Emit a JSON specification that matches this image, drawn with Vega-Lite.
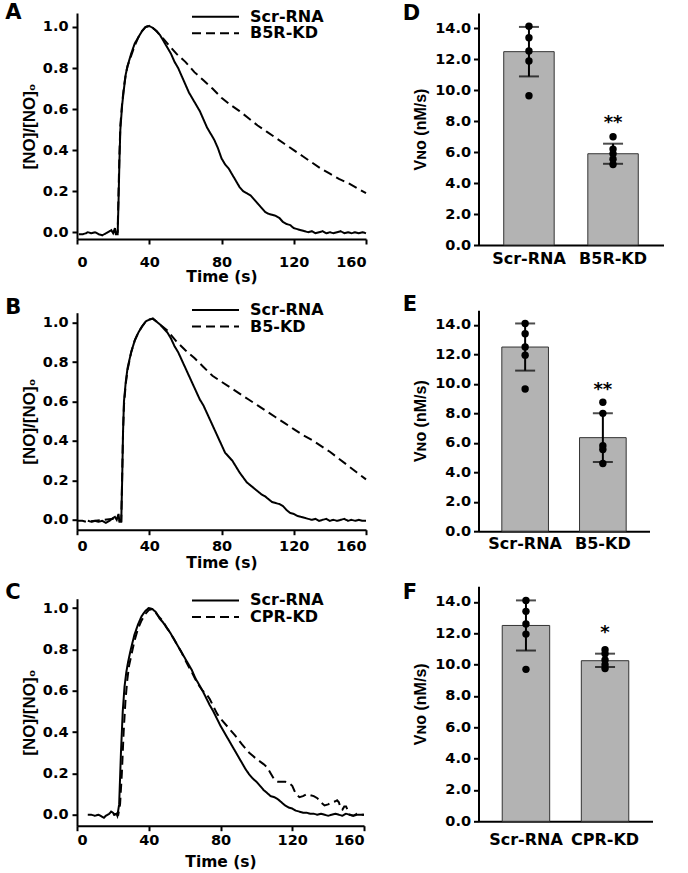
{
  "$schema": "https://vega.github.io/schema/vega-lite/v6.json",
  "padding": {"left": 5, "top": 1, "right": 5, "bottom": 0},
  "background": "white",
  "datasets": {
    "lines": [
      {"p":"A","s":"Scr-RNA","t":1,"v":-0.01},{"p":"A","s":"Scr-RNA","t":3,"v":-0.01},{"p":"A","s":"Scr-RNA","t":5,"v":-0.005},{"p":"A","s":"Scr-RNA","t":6,"v":0.0},{"p":"A","s":"Scr-RNA","t":8,"v":-0.005},{"p":"A","s":"Scr-RNA","t":10,"v":0.0},{"p":"A","s":"Scr-RNA","t":12,"v":-0.01},{"p":"A","s":"Scr-RNA","t":14,"v":-0.015},{"p":"A","s":"Scr-RNA","t":16,"v":-0.005},{"p":"A","s":"Scr-RNA","t":18,"v":0.005},{"p":"A","s":"Scr-RNA","t":19,"v":0.01},{"p":"A","s":"Scr-RNA","t":20,"v":-0.005},{"p":"A","s":"Scr-RNA","t":21,"v":0.02},{"p":"A","s":"Scr-RNA","t":21.5,"v":-0.01},{"p":"A","s":"Scr-RNA","t":22.5,"v":-0.01},{"p":"A","s":"Scr-RNA","t":23,"v":0.15},{"p":"A","s":"Scr-RNA","t":23.5,"v":0.35},{"p":"A","s":"Scr-RNA","t":24,"v":0.5},{"p":"A","s":"Scr-RNA","t":25,"v":0.62},{"p":"A","s":"Scr-RNA","t":26,"v":0.7},{"p":"A","s":"Scr-RNA","t":27,"v":0.77},{"p":"A","s":"Scr-RNA","t":28,"v":0.81},{"p":"A","s":"Scr-RNA","t":30,"v":0.87},{"p":"A","s":"Scr-RNA","t":32,"v":0.92},{"p":"A","s":"Scr-RNA","t":34,"v":0.95},{"p":"A","s":"Scr-RNA","t":36,"v":0.98},{"p":"A","s":"Scr-RNA","t":38,"v":1.0},{"p":"A","s":"Scr-RNA","t":40,"v":1.005},{"p":"A","s":"Scr-RNA","t":42,"v":0.995},{"p":"A","s":"Scr-RNA","t":44,"v":0.98},{"p":"A","s":"Scr-RNA","t":46,"v":0.96},{"p":"A","s":"Scr-RNA","t":48,"v":0.93},{"p":"A","s":"Scr-RNA","t":50,"v":0.9},{"p":"A","s":"Scr-RNA","t":52,"v":0.87},{"p":"A","s":"Scr-RNA","t":54,"v":0.83},{"p":"A","s":"Scr-RNA","t":56,"v":0.8},{"p":"A","s":"Scr-RNA","t":58,"v":0.76},{"p":"A","s":"Scr-RNA","t":60,"v":0.72},{"p":"A","s":"Scr-RNA","t":62,"v":0.68},{"p":"A","s":"Scr-RNA","t":64,"v":0.65},{"p":"A","s":"Scr-RNA","t":66,"v":0.62},{"p":"A","s":"Scr-RNA","t":68,"v":0.59},{"p":"A","s":"Scr-RNA","t":70,"v":0.55},{"p":"A","s":"Scr-RNA","t":72,"v":0.51},{"p":"A","s":"Scr-RNA","t":74,"v":0.48},{"p":"A","s":"Scr-RNA","t":76,"v":0.45},{"p":"A","s":"Scr-RNA","t":78,"v":0.41},{"p":"A","s":"Scr-RNA","t":80,"v":0.36},{"p":"A","s":"Scr-RNA","t":82,"v":0.33},{"p":"A","s":"Scr-RNA","t":84,"v":0.31},{"p":"A","s":"Scr-RNA","t":86,"v":0.28},{"p":"A","s":"Scr-RNA","t":88,"v":0.25},{"p":"A","s":"Scr-RNA","t":90,"v":0.22},{"p":"A","s":"Scr-RNA","t":92,"v":0.2},{"p":"A","s":"Scr-RNA","t":94,"v":0.19},{"p":"A","s":"Scr-RNA","t":96,"v":0.18},{"p":"A","s":"Scr-RNA","t":98,"v":0.16},{"p":"A","s":"Scr-RNA","t":100,"v":0.14},{"p":"A","s":"Scr-RNA","t":102,"v":0.12},{"p":"A","s":"Scr-RNA","t":104,"v":0.1},{"p":"A","s":"Scr-RNA","t":106,"v":0.09},{"p":"A","s":"Scr-RNA","t":108,"v":0.085},{"p":"A","s":"Scr-RNA","t":110,"v":0.08},{"p":"A","s":"Scr-RNA","t":112,"v":0.07},{"p":"A","s":"Scr-RNA","t":114,"v":0.05},{"p":"A","s":"Scr-RNA","t":116,"v":0.04},{"p":"A","s":"Scr-RNA","t":118,"v":0.035},{"p":"A","s":"Scr-RNA","t":120,"v":0.02},{"p":"A","s":"Scr-RNA","t":122,"v":0.015},{"p":"A","s":"Scr-RNA","t":124,"v":0.01},{"p":"A","s":"Scr-RNA","t":126,"v":0.005},{"p":"A","s":"Scr-RNA","t":128,"v":0.0},{"p":"A","s":"Scr-RNA","t":130,"v":0.005},{"p":"A","s":"Scr-RNA","t":132,"v":-0.005},{"p":"A","s":"Scr-RNA","t":134,"v":0.0},{"p":"A","s":"Scr-RNA","t":136,"v":0.005},{"p":"A","s":"Scr-RNA","t":138,"v":-0.005},{"p":"A","s":"Scr-RNA","t":140,"v":0.0},{"p":"A","s":"Scr-RNA","t":142,"v":-0.005},{"p":"A","s":"Scr-RNA","t":144,"v":0.0},{"p":"A","s":"Scr-RNA","t":146,"v":0.005},{"p":"A","s":"Scr-RNA","t":148,"v":-0.005},{"p":"A","s":"Scr-RNA","t":150,"v":0.0},{"p":"A","s":"Scr-RNA","t":152,"v":-0.005},{"p":"A","s":"Scr-RNA","t":154,"v":0.0},{"p":"A","s":"Scr-RNA","t":156,"v":-0.005},{"p":"A","s":"Scr-RNA","t":158,"v":0.0},{"p":"A","s":"Scr-RNA","t":160,"v":-0.005},
      {"p":"A","s":"B5R-KD","t":20,"v":0.0},{"p":"A","s":"B5R-KD","t":21,"v":0.005},{"p":"A","s":"B5R-KD","t":22,"v":-0.005},{"p":"A","s":"B5R-KD","t":22.5,"v":0.0},{"p":"A","s":"B5R-KD","t":23,"v":0.2},{"p":"A","s":"B5R-KD","t":23.5,"v":0.38},{"p":"A","s":"B5R-KD","t":24,"v":0.52},{"p":"A","s":"B5R-KD","t":25,"v":0.63},{"p":"A","s":"B5R-KD","t":26,"v":0.71},{"p":"A","s":"B5R-KD","t":27,"v":0.77},{"p":"A","s":"B5R-KD","t":28,"v":0.81},{"p":"A","s":"B5R-KD","t":30,"v":0.86},{"p":"A","s":"B5R-KD","t":32,"v":0.91},{"p":"A","s":"B5R-KD","t":34,"v":0.95},{"p":"A","s":"B5R-KD","t":36,"v":0.98},{"p":"A","s":"B5R-KD","t":38,"v":1.0},{"p":"A","s":"B5R-KD","t":40,"v":1.005},{"p":"A","s":"B5R-KD","t":42,"v":0.995},{"p":"A","s":"B5R-KD","t":44,"v":0.98},{"p":"A","s":"B5R-KD","t":46,"v":0.96},{"p":"A","s":"B5R-KD","t":48,"v":0.94},{"p":"A","s":"B5R-KD","t":50,"v":0.92},{"p":"A","s":"B5R-KD","t":55,"v":0.87},{"p":"A","s":"B5R-KD","t":60,"v":0.83},{"p":"A","s":"B5R-KD","t":65,"v":0.78},{"p":"A","s":"B5R-KD","t":70,"v":0.74},{"p":"A","s":"B5R-KD","t":75,"v":0.7},{"p":"A","s":"B5R-KD","t":80,"v":0.655},{"p":"A","s":"B5R-KD","t":85,"v":0.62},{"p":"A","s":"B5R-KD","t":90,"v":0.59},{"p":"A","s":"B5R-KD","t":95,"v":0.555},{"p":"A","s":"B5R-KD","t":100,"v":0.52},{"p":"A","s":"B5R-KD","t":105,"v":0.49},{"p":"A","s":"B5R-KD","t":110,"v":0.46},{"p":"A","s":"B5R-KD","t":115,"v":0.43},{"p":"A","s":"B5R-KD","t":120,"v":0.4},{"p":"A","s":"B5R-KD","t":125,"v":0.37},{"p":"A","s":"B5R-KD","t":130,"v":0.34},{"p":"A","s":"B5R-KD","t":135,"v":0.31},{"p":"A","s":"B5R-KD","t":140,"v":0.285},{"p":"A","s":"B5R-KD","t":145,"v":0.26},{"p":"A","s":"B5R-KD","t":150,"v":0.24},{"p":"A","s":"B5R-KD","t":155,"v":0.215},{"p":"A","s":"B5R-KD","t":160,"v":0.19},
      {"p":"B","s":"Scr-RNA","t":6,"v":-0.005},{"p":"B","s":"Scr-RNA","t":8,"v":-0.01},{"p":"B","s":"Scr-RNA","t":10,"v":-0.005},{"p":"B","s":"Scr-RNA","t":12,"v":-0.01},{"p":"B","s":"Scr-RNA","t":14,"v":-0.005},{"p":"B","s":"Scr-RNA","t":16,"v":-0.015},{"p":"B","s":"Scr-RNA","t":18,"v":-0.005},{"p":"B","s":"Scr-RNA","t":20,"v":0.01},{"p":"B","s":"Scr-RNA","t":21,"v":0.015},{"p":"B","s":"Scr-RNA","t":22,"v":0.0},{"p":"B","s":"Scr-RNA","t":23,"v":0.03},{"p":"B","s":"Scr-RNA","t":23.5,"v":-0.01},{"p":"B","s":"Scr-RNA","t":24.5,"v":-0.01},{"p":"B","s":"Scr-RNA","t":25,"v":0.2},{"p":"B","s":"Scr-RNA","t":25.5,"v":0.45},{"p":"B","s":"Scr-RNA","t":26,"v":0.6},{"p":"B","s":"Scr-RNA","t":27,"v":0.7},{"p":"B","s":"Scr-RNA","t":28,"v":0.77},{"p":"B","s":"Scr-RNA","t":30,"v":0.85},{"p":"B","s":"Scr-RNA","t":32,"v":0.91},{"p":"B","s":"Scr-RNA","t":34,"v":0.95},{"p":"B","s":"Scr-RNA","t":36,"v":0.98},{"p":"B","s":"Scr-RNA","t":38,"v":1.005},{"p":"B","s":"Scr-RNA","t":40,"v":1.015},{"p":"B","s":"Scr-RNA","t":42,"v":1.02},{"p":"B","s":"Scr-RNA","t":44,"v":1.005},{"p":"B","s":"Scr-RNA","t":46,"v":0.99},{"p":"B","s":"Scr-RNA","t":48,"v":0.97},{"p":"B","s":"Scr-RNA","t":50,"v":0.95},{"p":"B","s":"Scr-RNA","t":52,"v":0.92},{"p":"B","s":"Scr-RNA","t":54,"v":0.88},{"p":"B","s":"Scr-RNA","t":56,"v":0.85},{"p":"B","s":"Scr-RNA","t":58,"v":0.81},{"p":"B","s":"Scr-RNA","t":60,"v":0.77},{"p":"B","s":"Scr-RNA","t":62,"v":0.73},{"p":"B","s":"Scr-RNA","t":64,"v":0.69},{"p":"B","s":"Scr-RNA","t":66,"v":0.65},{"p":"B","s":"Scr-RNA","t":68,"v":0.61},{"p":"B","s":"Scr-RNA","t":70,"v":0.58},{"p":"B","s":"Scr-RNA","t":72,"v":0.54},{"p":"B","s":"Scr-RNA","t":74,"v":0.5},{"p":"B","s":"Scr-RNA","t":76,"v":0.46},{"p":"B","s":"Scr-RNA","t":78,"v":0.42},{"p":"B","s":"Scr-RNA","t":80,"v":0.38},{"p":"B","s":"Scr-RNA","t":82,"v":0.34},{"p":"B","s":"Scr-RNA","t":84,"v":0.32},{"p":"B","s":"Scr-RNA","t":86,"v":0.3},{"p":"B","s":"Scr-RNA","t":88,"v":0.27},{"p":"B","s":"Scr-RNA","t":90,"v":0.24},{"p":"B","s":"Scr-RNA","t":92,"v":0.215},{"p":"B","s":"Scr-RNA","t":94,"v":0.19},{"p":"B","s":"Scr-RNA","t":96,"v":0.175},{"p":"B","s":"Scr-RNA","t":98,"v":0.16},{"p":"B","s":"Scr-RNA","t":100,"v":0.145},{"p":"B","s":"Scr-RNA","t":102,"v":0.13},{"p":"B","s":"Scr-RNA","t":104,"v":0.12},{"p":"B","s":"Scr-RNA","t":106,"v":0.105},{"p":"B","s":"Scr-RNA","t":108,"v":0.09},{"p":"B","s":"Scr-RNA","t":110,"v":0.085},{"p":"B","s":"Scr-RNA","t":112,"v":0.08},{"p":"B","s":"Scr-RNA","t":114,"v":0.07},{"p":"B","s":"Scr-RNA","t":116,"v":0.05},{"p":"B","s":"Scr-RNA","t":118,"v":0.035},{"p":"B","s":"Scr-RNA","t":120,"v":0.03},{"p":"B","s":"Scr-RNA","t":122,"v":0.02},{"p":"B","s":"Scr-RNA","t":124,"v":0.015},{"p":"B","s":"Scr-RNA","t":126,"v":0.01},{"p":"B","s":"Scr-RNA","t":128,"v":0.005},{"p":"B","s":"Scr-RNA","t":130,"v":0.0},{"p":"B","s":"Scr-RNA","t":132,"v":0.005},{"p":"B","s":"Scr-RNA","t":134,"v":-0.005},{"p":"B","s":"Scr-RNA","t":136,"v":0.0},{"p":"B","s":"Scr-RNA","t":138,"v":0.005},{"p":"B","s":"Scr-RNA","t":140,"v":-0.005},{"p":"B","s":"Scr-RNA","t":142,"v":0.0},{"p":"B","s":"Scr-RNA","t":144,"v":-0.005},{"p":"B","s":"Scr-RNA","t":146,"v":0.0},{"p":"B","s":"Scr-RNA","t":148,"v":0.005},{"p":"B","s":"Scr-RNA","t":150,"v":-0.005},{"p":"B","s":"Scr-RNA","t":152,"v":0.0},{"p":"B","s":"Scr-RNA","t":154,"v":-0.005},{"p":"B","s":"Scr-RNA","t":156,"v":0.0},{"p":"B","s":"Scr-RNA","t":158,"v":-0.005},{"p":"B","s":"Scr-RNA","t":160,"v":-0.005},
      {"p":"B","s":"B5-KD","t":0,"v":-0.005},{"p":"B","s":"B5-KD","t":3,"v":-0.005},{"p":"B","s":"B5-KD","t":5,"v":-0.01},{"p":"B","s":"B5-KD","t":20,"v":0.005},{"p":"B","s":"B5-KD","t":24.5,"v":-0.005},{"p":"B","s":"B5-KD","t":25,"v":0.22},{"p":"B","s":"B5-KD","t":25.5,"v":0.45},{"p":"B","s":"B5-KD","t":26,"v":0.58},{"p":"B","s":"B5-KD","t":27,"v":0.69},{"p":"B","s":"B5-KD","t":28,"v":0.76},{"p":"B","s":"B5-KD","t":30,"v":0.85},{"p":"B","s":"B5-KD","t":32,"v":0.91},{"p":"B","s":"B5-KD","t":34,"v":0.95},{"p":"B","s":"B5-KD","t":36,"v":0.98},{"p":"B","s":"B5-KD","t":38,"v":1.005},{"p":"B","s":"B5-KD","t":40,"v":1.015},{"p":"B","s":"B5-KD","t":42,"v":1.02},{"p":"B","s":"B5-KD","t":44,"v":1.005},{"p":"B","s":"B5-KD","t":46,"v":0.99},{"p":"B","s":"B5-KD","t":48,"v":0.975},{"p":"B","s":"B5-KD","t":50,"v":0.96},{"p":"B","s":"B5-KD","t":55,"v":0.905},{"p":"B","s":"B5-KD","t":60,"v":0.86},{"p":"B","s":"B5-KD","t":65,"v":0.82},{"p":"B","s":"B5-KD","t":70,"v":0.775},{"p":"B","s":"B5-KD","t":75,"v":0.73},{"p":"B","s":"B5-KD","t":80,"v":0.7},{"p":"B","s":"B5-KD","t":85,"v":0.67},{"p":"B","s":"B5-KD","t":90,"v":0.64},{"p":"B","s":"B5-KD","t":95,"v":0.61},{"p":"B","s":"B5-KD","t":100,"v":0.58},{"p":"B","s":"B5-KD","t":105,"v":0.55},{"p":"B","s":"B5-KD","t":110,"v":0.52},{"p":"B","s":"B5-KD","t":115,"v":0.49},{"p":"B","s":"B5-KD","t":120,"v":0.46},{"p":"B","s":"B5-KD","t":125,"v":0.43},{"p":"B","s":"B5-KD","t":130,"v":0.405},{"p":"B","s":"B5-KD","t":135,"v":0.375},{"p":"B","s":"B5-KD","t":140,"v":0.345},{"p":"B","s":"B5-KD","t":145,"v":0.31},{"p":"B","s":"B5-KD","t":150,"v":0.275},{"p":"B","s":"B5-KD","t":155,"v":0.24},{"p":"B","s":"B5-KD","t":160,"v":0.205},
      {"p":"C","s":"Scr-RNA","t":6,"v":0.0},{"p":"C","s":"Scr-RNA","t":8,"v":0.0},{"p":"C","s":"Scr-RNA","t":10,"v":-0.005},{"p":"C","s":"Scr-RNA","t":12,"v":0.0},{"p":"C","s":"Scr-RNA","t":14,"v":-0.01},{"p":"C","s":"Scr-RNA","t":15,"v":-0.015},{"p":"C","s":"Scr-RNA","t":16,"v":-0.005},{"p":"C","s":"Scr-RNA","t":18,"v":0.005},{"p":"C","s":"Scr-RNA","t":19,"v":0.015},{"p":"C","s":"Scr-RNA","t":20,"v":0.01},{"p":"C","s":"Scr-RNA","t":21,"v":0.0},{"p":"C","s":"Scr-RNA","t":22,"v":0.005},{"p":"C","s":"Scr-RNA","t":22.5,"v":-0.005},{"p":"C","s":"Scr-RNA","t":23.5,"v":0.05},{"p":"C","s":"Scr-RNA","t":24.5,"v":0.3},{"p":"C","s":"Scr-RNA","t":25.5,"v":0.5},{"p":"C","s":"Scr-RNA","t":26.5,"v":0.62},{"p":"C","s":"Scr-RNA","t":27.5,"v":0.69},{"p":"C","s":"Scr-RNA","t":28.5,"v":0.74},{"p":"C","s":"Scr-RNA","t":30,"v":0.8},{"p":"C","s":"Scr-RNA","t":32,"v":0.87},{"p":"C","s":"Scr-RNA","t":34,"v":0.92},{"p":"C","s":"Scr-RNA","t":36,"v":0.96},{"p":"C","s":"Scr-RNA","t":38,"v":0.985},{"p":"C","s":"Scr-RNA","t":40,"v":1.0},{"p":"C","s":"Scr-RNA","t":42,"v":0.995},{"p":"C","s":"Scr-RNA","t":44,"v":0.98},{"p":"C","s":"Scr-RNA","t":46,"v":0.95},{"p":"C","s":"Scr-RNA","t":48,"v":0.93},{"p":"C","s":"Scr-RNA","t":50,"v":0.905},{"p":"C","s":"Scr-RNA","t":52,"v":0.88},{"p":"C","s":"Scr-RNA","t":54,"v":0.85},{"p":"C","s":"Scr-RNA","t":56,"v":0.82},{"p":"C","s":"Scr-RNA","t":58,"v":0.79},{"p":"C","s":"Scr-RNA","t":60,"v":0.76},{"p":"C","s":"Scr-RNA","t":62,"v":0.73},{"p":"C","s":"Scr-RNA","t":64,"v":0.7},{"p":"C","s":"Scr-RNA","t":66,"v":0.66},{"p":"C","s":"Scr-RNA","t":68,"v":0.63},{"p":"C","s":"Scr-RNA","t":70,"v":0.6},{"p":"C","s":"Scr-RNA","t":72,"v":0.565},{"p":"C","s":"Scr-RNA","t":74,"v":0.53},{"p":"C","s":"Scr-RNA","t":76,"v":0.5},{"p":"C","s":"Scr-RNA","t":78,"v":0.465},{"p":"C","s":"Scr-RNA","t":80,"v":0.43},{"p":"C","s":"Scr-RNA","t":82,"v":0.4},{"p":"C","s":"Scr-RNA","t":84,"v":0.37},{"p":"C","s":"Scr-RNA","t":86,"v":0.34},{"p":"C","s":"Scr-RNA","t":88,"v":0.31},{"p":"C","s":"Scr-RNA","t":90,"v":0.28},{"p":"C","s":"Scr-RNA","t":92,"v":0.25},{"p":"C","s":"Scr-RNA","t":94,"v":0.22},{"p":"C","s":"Scr-RNA","t":96,"v":0.195},{"p":"C","s":"Scr-RNA","t":98,"v":0.175},{"p":"C","s":"Scr-RNA","t":100,"v":0.16},{"p":"C","s":"Scr-RNA","t":102,"v":0.14},{"p":"C","s":"Scr-RNA","t":104,"v":0.12},{"p":"C","s":"Scr-RNA","t":106,"v":0.105},{"p":"C","s":"Scr-RNA","t":108,"v":0.09},{"p":"C","s":"Scr-RNA","t":110,"v":0.085},{"p":"C","s":"Scr-RNA","t":112,"v":0.075},{"p":"C","s":"Scr-RNA","t":114,"v":0.06},{"p":"C","s":"Scr-RNA","t":116,"v":0.045},{"p":"C","s":"Scr-RNA","t":118,"v":0.035},{"p":"C","s":"Scr-RNA","t":120,"v":0.03},{"p":"C","s":"Scr-RNA","t":122,"v":0.02},{"p":"C","s":"Scr-RNA","t":124,"v":0.015},{"p":"C","s":"Scr-RNA","t":126,"v":0.01},{"p":"C","s":"Scr-RNA","t":128,"v":0.01},{"p":"C","s":"Scr-RNA","t":130,"v":0.005},{"p":"C","s":"Scr-RNA","t":132,"v":0.005},{"p":"C","s":"Scr-RNA","t":134,"v":0.0},{"p":"C","s":"Scr-RNA","t":136,"v":0.005},{"p":"C","s":"Scr-RNA","t":138,"v":0.0},{"p":"C","s":"Scr-RNA","t":140,"v":-0.005},{"p":"C","s":"Scr-RNA","t":142,"v":0.0},{"p":"C","s":"Scr-RNA","t":144,"v":0.005},{"p":"C","s":"Scr-RNA","t":146,"v":0.0},{"p":"C","s":"Scr-RNA","t":148,"v":-0.005},{"p":"C","s":"Scr-RNA","t":150,"v":0.005},{"p":"C","s":"Scr-RNA","t":152,"v":0.0},{"p":"C","s":"Scr-RNA","t":154,"v":-0.005},{"p":"C","s":"Scr-RNA","t":156,"v":0.0},{"p":"C","s":"Scr-RNA","t":158,"v":0.0},{"p":"C","s":"Scr-RNA","t":160,"v":0.0},
      {"p":"C","s":"CPR-KD","t":20,"v":0.0},{"p":"C","s":"CPR-KD","t":22,"v":0.005},{"p":"C","s":"CPR-KD","t":23,"v":0.0},{"p":"C","s":"CPR-KD","t":24,"v":0.05},{"p":"C","s":"CPR-KD","t":25,"v":0.2},{"p":"C","s":"CPR-KD","t":26,"v":0.4},{"p":"C","s":"CPR-KD","t":27,"v":0.55},{"p":"C","s":"CPR-KD","t":28,"v":0.65},{"p":"C","s":"CPR-KD","t":29,"v":0.72},{"p":"C","s":"CPR-KD","t":30,"v":0.76},{"p":"C","s":"CPR-KD","t":32,"v":0.84},{"p":"C","s":"CPR-KD","t":34,"v":0.9},{"p":"C","s":"CPR-KD","t":36,"v":0.94},{"p":"C","s":"CPR-KD","t":38,"v":0.97},{"p":"C","s":"CPR-KD","t":40,"v":0.99},{"p":"C","s":"CPR-KD","t":42,"v":0.995},{"p":"C","s":"CPR-KD","t":44,"v":0.975},{"p":"C","s":"CPR-KD","t":46,"v":0.955},{"p":"C","s":"CPR-KD","t":48,"v":0.935},{"p":"C","s":"CPR-KD","t":50,"v":0.905},{"p":"C","s":"CPR-KD","t":52,"v":0.88},{"p":"C","s":"CPR-KD","t":54,"v":0.85},{"p":"C","s":"CPR-KD","t":56,"v":0.82},{"p":"C","s":"CPR-KD","t":58,"v":0.79},{"p":"C","s":"CPR-KD","t":60,"v":0.755},{"p":"C","s":"CPR-KD","t":62,"v":0.72},{"p":"C","s":"CPR-KD","t":64,"v":0.69},{"p":"C","s":"CPR-KD","t":66,"v":0.655},{"p":"C","s":"CPR-KD","t":68,"v":0.625},{"p":"C","s":"CPR-KD","t":70,"v":0.6},{"p":"C","s":"CPR-KD","t":72,"v":0.585},{"p":"C","s":"CPR-KD","t":74,"v":0.56},{"p":"C","s":"CPR-KD","t":76,"v":0.525},{"p":"C","s":"CPR-KD","t":78,"v":0.49},{"p":"C","s":"CPR-KD","t":80,"v":0.465},{"p":"C","s":"CPR-KD","t":84,"v":0.425},{"p":"C","s":"CPR-KD","t":88,"v":0.385},{"p":"C","s":"CPR-KD","t":92,"v":0.34},{"p":"C","s":"CPR-KD","t":96,"v":0.3},{"p":"C","s":"CPR-KD","t":98,"v":0.285},{"p":"C","s":"CPR-KD","t":100,"v":0.27},{"p":"C","s":"CPR-KD","t":104,"v":0.245},{"p":"C","s":"CPR-KD","t":106,"v":0.23},{"p":"C","s":"CPR-KD","t":108,"v":0.2},{"p":"C","s":"CPR-KD","t":110,"v":0.17},{"p":"C","s":"CPR-KD","t":112,"v":0.16},{"p":"C","s":"CPR-KD","t":116,"v":0.16},{"p":"C","s":"CPR-KD","t":118,"v":0.155},{"p":"C","s":"CPR-KD","t":120,"v":0.14},{"p":"C","s":"CPR-KD","t":122,"v":0.1},{"p":"C","s":"CPR-KD","t":124,"v":0.085},{"p":"C","s":"CPR-KD","t":126,"v":0.09},{"p":"C","s":"CPR-KD","t":128,"v":0.1},{"p":"C","s":"CPR-KD","t":130,"v":0.095},{"p":"C","s":"CPR-KD","t":132,"v":0.09},{"p":"C","s":"CPR-KD","t":134,"v":0.08},{"p":"C","s":"CPR-KD","t":136,"v":0.06},{"p":"C","s":"CPR-KD","t":138,"v":0.045},{"p":"C","s":"CPR-KD","t":140,"v":0.05},{"p":"C","s":"CPR-KD","t":142,"v":0.06},{"p":"C","s":"CPR-KD","t":144,"v":0.065},{"p":"C","s":"CPR-KD","t":145,"v":0.07},{"p":"C","s":"CPR-KD","t":146,"v":0.06},{"p":"C","s":"CPR-KD","t":147,"v":0.03},{"p":"C","s":"CPR-KD","t":148,"v":0.025},{"p":"C","s":"CPR-KD","t":149,"v":0.04},{"p":"C","s":"CPR-KD","t":150,"v":0.04},{"p":"C","s":"CPR-KD","t":151,"v":0.02},{"p":"C","s":"CPR-KD","t":152,"v":0.0},{"p":"C","s":"CPR-KD","t":154,"v":-0.005},{"p":"C","s":"CPR-KD","t":156,"v":0.005},{"p":"C","s":"CPR-KD","t":158,"v":0.0},{"p":"C","s":"CPR-KD","t":160,"v":0.0}
    ],
    "bars": [
      {"p":"D","g":"Scr-RNA","m":12.5,"lo":10.9,"hi":14.1,"star":""},
      {"p":"D","g":"B5R-KD","m":5.9,"lo":5.25,"hi":6.55,"star":"**","sy":7.9},
      {"p":"E","g":"Scr-RNA","m":12.5,"lo":10.9,"hi":14.1,"star":""},
      {"p":"E","g":"B5-KD","m":6.35,"lo":4.7,"hi":8.0,"star":"**","sy":9.6},
      {"p":"F","g":"Scr-RNA","m":12.5,"lo":10.9,"hi":14.1,"star":""},
      {"p":"F","g":"CPR-KD","m":10.25,"lo":9.85,"hi":10.7,"star":"*","sy":12.0}
    ],
    "dots": [
      {"p":"D","g":"Scr-RNA","y":14.15},{"p":"D","g":"Scr-RNA","y":13.4},{"p":"D","g":"Scr-RNA","y":12.55},{"p":"D","g":"Scr-RNA","y":11.9},{"p":"D","g":"Scr-RNA","y":9.65},
      {"p":"D","g":"B5R-KD","y":7.0},{"p":"D","g":"B5R-KD","y":6.2},{"p":"D","g":"B5R-KD","y":5.9},{"p":"D","g":"B5R-KD","y":5.55},{"p":"D","g":"B5R-KD","y":5.2},
      {"p":"E","g":"Scr-RNA","y":14.1},{"p":"E","g":"Scr-RNA","y":13.4},{"p":"E","g":"Scr-RNA","y":12.5},{"p":"E","g":"Scr-RNA","y":11.95},{"p":"E","g":"Scr-RNA","y":9.65},
      {"p":"E","g":"B5-KD","y":8.75},{"p":"E","g":"B5-KD","y":8.0},{"p":"E","g":"B5-KD","y":5.8},{"p":"E","g":"B5-KD","y":5.55},{"p":"E","g":"B5-KD","y":4.6},
      {"p":"F","g":"Scr-RNA","y":14.1},{"p":"F","g":"Scr-RNA","y":13.4},{"p":"F","g":"Scr-RNA","y":12.6},{"p":"F","g":"Scr-RNA","y":11.95},{"p":"F","g":"Scr-RNA","y":9.7},
      {"p":"F","g":"CPR-KD","y":10.95},{"p":"F","g":"CPR-KD","y":10.7},{"p":"F","g":"CPR-KD","y":10.3},{"p":"F","g":"CPR-KD","y":10.0},{"p":"F","g":"CPR-KD","y":9.75}
    ]
  },
  "hconcat": [
    {
      "vconcat": [
        {
          "width": 289, "height": 226,
          "title": {"text": "A", "anchor": "start", "frame": "bounds", "dx": -15, "dy": 17},
          "data": {"name": "lines"},
          "transform": [{"filter": "datum.p === 'A'"}],
          "mark": {"type": "line", "color": "black", "strokeWidth": 2},
          "encoding": {
            "x": {"field": "t", "type": "quantitative", "scale": {"domain": [0, 160], "nice": false}, "axis": {"values": [0, 40, 80, 120, 160], "title": "Time (s)", "labelPadding": 11, "titlePadding": 1}},
            "y": {"field": "v", "type": "quantitative", "scale": {"domain": [-0.033, 1.068], "nice": false, "zero": false}, "axis": {"values": [0, 0.2, 0.4, 0.6, 0.8, 1.0], "format": ".1f", "title": "[NO]/[NO]₀", "titleFont": "Liberation Sans", "titleFontSize": 17}},
            "strokeDash": {"field": "s", "type": "nominal", "scale": {"domain": ["Scr-RNA", "B5R-KD"], "range": [[1, 0], [9, 5]]}, "legend": {"title": null, "orient": "none", "legendX": 114, "legendY": -3.3}}
          }
        },
        {
          "vconcat": [
            {
              "width": 289, "height": 217,
              "title": {"text": "B", "anchor": "start", "frame": "bounds", "dx": -15, "dy": 18.6},
              "data": {"name": "lines"},
              "transform": [{"filter": "datum.p === 'B'"}],
              "mark": {"type": "line", "color": "black", "strokeWidth": 2},
              "encoding": {
                "x": {"field": "t", "type": "quantitative", "scale": {"domain": [0, 160], "nice": false}, "axis": {"values": [0, 40, 80, 120, 160], "title": "Time (s)", "labelPadding": 5, "titlePadding": 2}},
                "y": {"field": "v", "type": "quantitative", "scale": {"domain": [-0.05, 1.05], "nice": false, "zero": false}, "axis": {"values": [0, 0.2, 0.4, 0.6, 0.8, 1.0], "format": ".1f", "title": "[NO]/[NO]₀", "titleFont": "Liberation Sans", "titleFontSize": 17}},
                "strokeDash": {"field": "s", "type": "nominal", "scale": {"domain": ["Scr-RNA", "B5-KD"], "range": [[1, 0], [9, 5]]}, "legend": {"title": null, "orient": "none", "legendX": 114, "legendY": -9.7}}
              }
            },
            {
              "width": 287, "height": 227,
              "title": {"text": "C", "anchor": "start", "frame": "bounds", "dx": -15, "dy": 13.9},
              "data": {"name": "lines"},
              "transform": [{"filter": "datum.p === 'C'"}],
              "mark": {"type": "line", "color": "black", "strokeWidth": 2},
              "encoding": {
                "x": {"field": "t", "type": "quantitative", "scale": {"domain": [0, 160], "nice": false}, "axis": {"values": [0, 40, 80, 120, 160], "title": "Time (s)", "labelPadding": 3, "titlePadding": 7}},
                "y": {"field": "v", "type": "quantitative", "scale": {"domain": [-0.053, 1.045], "nice": false, "zero": false}, "axis": {"values": [0, 0.2, 0.4, 0.6, 0.8, 1.0], "format": ".1f", "title": "[NO]/[NO]₀", "titleFont": "Liberation Sans", "titleFontSize": 17}},
                "strokeDash": {"field": "s", "type": "nominal", "scale": {"domain": ["Scr-RNA", "CPR-KD"], "range": [[1, 0], [9, 5]]}, "legend": {"title": null, "orient": "none", "legendX": 114, "legendY": -5.3}}
              }
            }
          ],
          "spacing": 11,
          "resolve": {"scale": {"strokeDash": "independent"}, "legend": {"strokeDash": "independent"}}
        }
      ],
      "spacing": 10.7,
      "resolve": {"scale": {"strokeDash": "independent"}, "legend": {"strokeDash": "independent"}}
    },
    {
      "vconcat": [
        {
          "width": 185, "height": 232,
          "title": {"text": "D", "anchor": "start", "frame": "bounds", "dx": -10, "dy": 14.7},
          "layer": [
            {"data": {"name": "bars"}, "transform": [{"filter": "datum.p === 'D'"}],
             "mark": {"type": "bar", "fill": "#b3b3b3", "stroke": "#333333", "strokeWidth": 1},
             "encoding": {
               "x": {"field": "g", "type": "nominal", "sort": null, "scale": {"paddingInner": 0.4, "paddingOuter": 0.3}, "axis": {"title": null, "labelAngle": 0, "ticks": false, "labelPadding": 5.5, "labelFontSize": 16}},
               "y": {"field": "m", "type": "quantitative", "scale": {"domain": [0, 15], "nice": false}, "axis": {"values": [0, 2, 4, 6, 8, 10, 12, 14], "format": ".1f", "title": "Vɴᴏ (nM/s)", "titleFont": "Liberation Sans", "titleFontSize": 16, "labelPadding": 3, "titlePadding": 6}}
             }},
            {"data": {"name": "bars"}, "transform": [{"filter": "datum.p === 'D'"}], "mark": {"type": "rule", "color": "black", "strokeWidth": 2},
             "encoding": {"x": {"field": "g", "type": "nominal", "sort": null, "axis": {"title": null, "labelAngle": 0, "ticks": false, "labelPadding": 5.5, "labelFontSize": 16}}, "y": {"field": "lo", "type": "quantitative", "axis": {"values": [0, 2, 4, 6, 8, 10, 12, 14], "format": ".1f", "title": "Vɴᴏ (nM/s)", "titleFont": "Liberation Sans", "titleFontSize": 16, "labelPadding": 3, "titlePadding": 6}}, "y2": {"field": "hi"}}},
            {"data": {"name": "bars"}, "transform": [{"filter": "datum.p === 'D'"}], "mark": {"type": "tick", "color": "black", "thickness": 2, "size": 20},
             "encoding": {"x": {"field": "g", "type": "nominal", "sort": null, "axis": {"title": null, "labelAngle": 0, "ticks": false, "labelPadding": 5.5, "labelFontSize": 16}}, "y": {"field": "hi", "type": "quantitative", "axis": {"values": [0, 2, 4, 6, 8, 10, 12, 14], "format": ".1f", "title": "Vɴᴏ (nM/s)", "titleFont": "Liberation Sans", "titleFontSize": 16, "labelPadding": 3, "titlePadding": 6}}}},
            {"data": {"name": "bars"}, "transform": [{"filter": "datum.p === 'D'"}], "mark": {"type": "tick", "color": "black", "thickness": 2, "size": 20},
             "encoding": {"x": {"field": "g", "type": "nominal", "sort": null, "axis": {"title": null, "labelAngle": 0, "ticks": false, "labelPadding": 5.5, "labelFontSize": 16}}, "y": {"field": "lo", "type": "quantitative", "axis": {"values": [0, 2, 4, 6, 8, 10, 12, 14], "format": ".1f", "title": "Vɴᴏ (nM/s)", "titleFont": "Liberation Sans", "titleFontSize": 16, "labelPadding": 3, "titlePadding": 6}}}},
            {"data": {"name": "dots"}, "transform": [{"filter": "datum.p === 'D'"}], "mark": {"type": "circle", "color": "black", "opacity": 1, "size": 55},
             "encoding": {"x": {"field": "g", "type": "nominal", "sort": null, "axis": {"title": null, "labelAngle": 0, "ticks": false, "labelPadding": 5.5, "labelFontSize": 16}}, "y": {"field": "y", "type": "quantitative", "axis": {"values": [0, 2, 4, 6, 8, 10, 12, 14], "format": ".1f", "title": "Vɴᴏ (nM/s)", "titleFont": "Liberation Sans", "titleFontSize": 16, "labelPadding": 3, "titlePadding": 6}}}},
            {"data": {"name": "bars"}, "transform": [{"filter": "datum.p === 'D' && datum.star"}], "mark": {"type": "text", "color": "black", "font": "DejaVu Sans", "fontSize": 18, "fontWeight": "bold", "baseline": "middle"},
             "encoding": {"x": {"field": "g", "type": "nominal", "sort": null, "axis": {"title": null, "labelAngle": 0, "ticks": false, "labelPadding": 5.5, "labelFontSize": 16}}, "y": {"field": "sy", "type": "quantitative", "axis": {"values": [0, 2, 4, 6, 8, 10, 12, 14], "format": ".1f", "title": "Vɴᴏ (nM/s)", "titleFont": "Liberation Sans", "titleFontSize": 16, "labelPadding": 3, "titlePadding": 6}}, "text": {"field": "star"}}}
          ]
        },
        {
          "vconcat": [
            {
              "width": 171, "height": 221,
              "title": {"text": "E", "anchor": "start", "frame": "bounds", "dx": -10, "dy": 9.2},
              "layer": [
                {"data": {"name": "bars"}, "transform": [{"filter": "datum.p === 'E'"}],
                 "mark": {"type": "bar", "fill": "#b3b3b3", "stroke": "#333333", "strokeWidth": 1},
                 "encoding": {
                   "x": {"field": "g", "type": "nominal", "sort": null, "scale": {"paddingInner": 0.4, "paddingOuter": 0.3}, "axis": {"title": null, "labelAngle": 0, "ticks": false, "labelPadding": 4, "labelFontSize": 16}},
                   "y": {"field": "m", "type": "quantitative", "scale": {"domain": [0, 15], "nice": false}, "axis": {"values": [0, 2, 4, 6, 8, 10, 12, 14], "format": ".1f", "title": "Vɴᴏ (nM/s)", "titleFont": "Liberation Sans", "titleFontSize": 16, "labelPadding": 3, "titlePadding": 6}}
                 }},
                {"data": {"name": "bars"}, "transform": [{"filter": "datum.p === 'E'"}], "mark": {"type": "rule", "color": "black", "strokeWidth": 2},
                 "encoding": {"x": {"field": "g", "type": "nominal", "sort": null, "axis": {"title": null, "labelAngle": 0, "ticks": false, "labelPadding": 4, "labelFontSize": 16}}, "y": {"field": "lo", "type": "quantitative", "axis": {"values": [0, 2, 4, 6, 8, 10, 12, 14], "format": ".1f", "title": "Vɴᴏ (nM/s)", "titleFont": "Liberation Sans", "titleFontSize": 16, "labelPadding": 3, "titlePadding": 6}}, "y2": {"field": "hi"}}},
                {"data": {"name": "bars"}, "transform": [{"filter": "datum.p === 'E'"}], "mark": {"type": "tick", "color": "black", "thickness": 2, "size": 20},
                 "encoding": {"x": {"field": "g", "type": "nominal", "sort": null, "axis": {"title": null, "labelAngle": 0, "ticks": false, "labelPadding": 4, "labelFontSize": 16}}, "y": {"field": "hi", "type": "quantitative", "axis": {"values": [0, 2, 4, 6, 8, 10, 12, 14], "format": ".1f", "title": "Vɴᴏ (nM/s)", "titleFont": "Liberation Sans", "titleFontSize": 16, "labelPadding": 3, "titlePadding": 6}}}},
                {"data": {"name": "bars"}, "transform": [{"filter": "datum.p === 'E'"}], "mark": {"type": "tick", "color": "black", "thickness": 2, "size": 20},
                 "encoding": {"x": {"field": "g", "type": "nominal", "sort": null, "axis": {"title": null, "labelAngle": 0, "ticks": false, "labelPadding": 4, "labelFontSize": 16}}, "y": {"field": "lo", "type": "quantitative", "axis": {"values": [0, 2, 4, 6, 8, 10, 12, 14], "format": ".1f", "title": "Vɴᴏ (nM/s)", "titleFont": "Liberation Sans", "titleFontSize": 16, "labelPadding": 3, "titlePadding": 6}}}},
                {"data": {"name": "dots"}, "transform": [{"filter": "datum.p === 'E'"}], "mark": {"type": "circle", "color": "black", "opacity": 1, "size": 55},
                 "encoding": {"x": {"field": "g", "type": "nominal", "sort": null, "axis": {"title": null, "labelAngle": 0, "ticks": false, "labelPadding": 4, "labelFontSize": 16}}, "y": {"field": "y", "type": "quantitative", "axis": {"values": [0, 2, 4, 6, 8, 10, 12, 14], "format": ".1f", "title": "Vɴᴏ (nM/s)", "titleFont": "Liberation Sans", "titleFontSize": 16, "labelPadding": 3, "titlePadding": 6}}}},
                {"data": {"name": "bars"}, "transform": [{"filter": "datum.p === 'E' && datum.star"}], "mark": {"type": "text", "color": "black", "font": "DejaVu Sans", "fontSize": 18, "fontWeight": "bold", "baseline": "middle"},
                 "encoding": {"x": {"field": "g", "type": "nominal", "sort": null, "axis": {"title": null, "labelAngle": 0, "ticks": false, "labelPadding": 4, "labelFontSize": 16}}, "y": {"field": "sy", "type": "quantitative", "axis": {"values": [0, 2, 4, 6, 8, 10, 12, 14], "format": ".1f", "title": "Vɴᴏ (nM/s)", "titleFont": "Liberation Sans", "titleFontSize": 16, "labelPadding": 3, "titlePadding": 6}}, "text": {"field": "star"}}}
              ]
            },
            {
              "width": 174, "height": 235,
              "title": {"text": "F", "anchor": "start", "frame": "bounds", "dx": -10, "dy": 20.8},
              "layer": [
                {"data": {"name": "bars"}, "transform": [{"filter": "datum.p === 'F'"}],
                 "mark": {"type": "bar", "fill": "#b3b3b3", "stroke": "#333333", "strokeWidth": 1},
                 "encoding": {
                   "x": {"field": "g", "type": "nominal", "sort": null, "scale": {"paddingInner": 0.4, "paddingOuter": 0.3}, "axis": {"title": null, "labelAngle": 0, "ticks": false, "labelPadding": 10, "labelFontSize": 16}},
                   "y": {"field": "m", "type": "quantitative", "scale": {"domain": [0, 15], "nice": false}, "axis": {"values": [0, 2, 4, 6, 8, 10, 12, 14], "format": ".1f", "title": "Vɴᴏ (nM/s)", "titleFont": "Liberation Sans", "titleFontSize": 16, "labelPadding": 3, "titlePadding": 6}}
                 }},
                {"data": {"name": "bars"}, "transform": [{"filter": "datum.p === 'F'"}], "mark": {"type": "rule", "color": "black", "strokeWidth": 2},
                 "encoding": {"x": {"field": "g", "type": "nominal", "sort": null, "axis": {"title": null, "labelAngle": 0, "ticks": false, "labelPadding": 10, "labelFontSize": 16}}, "y": {"field": "lo", "type": "quantitative", "axis": {"values": [0, 2, 4, 6, 8, 10, 12, 14], "format": ".1f", "title": "Vɴᴏ (nM/s)", "titleFont": "Liberation Sans", "titleFontSize": 16, "labelPadding": 3, "titlePadding": 6}}, "y2": {"field": "hi"}}},
                {"data": {"name": "bars"}, "transform": [{"filter": "datum.p === 'F'"}], "mark": {"type": "tick", "color": "black", "thickness": 2, "size": 20},
                 "encoding": {"x": {"field": "g", "type": "nominal", "sort": null, "axis": {"title": null, "labelAngle": 0, "ticks": false, "labelPadding": 10, "labelFontSize": 16}}, "y": {"field": "hi", "type": "quantitative", "axis": {"values": [0, 2, 4, 6, 8, 10, 12, 14], "format": ".1f", "title": "Vɴᴏ (nM/s)", "titleFont": "Liberation Sans", "titleFontSize": 16, "labelPadding": 3, "titlePadding": 6}}}},
                {"data": {"name": "bars"}, "transform": [{"filter": "datum.p === 'F'"}], "mark": {"type": "tick", "color": "black", "thickness": 2, "size": 20},
                 "encoding": {"x": {"field": "g", "type": "nominal", "sort": null, "axis": {"title": null, "labelAngle": 0, "ticks": false, "labelPadding": 10, "labelFontSize": 16}}, "y": {"field": "lo", "type": "quantitative", "axis": {"values": [0, 2, 4, 6, 8, 10, 12, 14], "format": ".1f", "title": "Vɴᴏ (nM/s)", "titleFont": "Liberation Sans", "titleFontSize": 16, "labelPadding": 3, "titlePadding": 6}}}},
                {"data": {"name": "dots"}, "transform": [{"filter": "datum.p === 'F'"}], "mark": {"type": "circle", "color": "black", "opacity": 1, "size": 55},
                 "encoding": {"x": {"field": "g", "type": "nominal", "sort": null, "axis": {"title": null, "labelAngle": 0, "ticks": false, "labelPadding": 10, "labelFontSize": 16}}, "y": {"field": "y", "type": "quantitative", "axis": {"values": [0, 2, 4, 6, 8, 10, 12, 14], "format": ".1f", "title": "Vɴᴏ (nM/s)", "titleFont": "Liberation Sans", "titleFontSize": 16, "labelPadding": 3, "titlePadding": 6}}}},
                {"data": {"name": "bars"}, "transform": [{"filter": "datum.p === 'F' && datum.star"}], "mark": {"type": "text", "color": "black", "font": "DejaVu Sans", "fontSize": 18, "fontWeight": "bold", "baseline": "middle"},
                 "encoding": {"x": {"field": "g", "type": "nominal", "sort": null, "axis": {"title": null, "labelAngle": 0, "ticks": false, "labelPadding": 10, "labelFontSize": 16}}, "y": {"field": "sy", "type": "quantitative", "axis": {"values": [0, 2, 4, 6, 8, 10, 12, 14], "format": ".1f", "title": "Vɴᴏ (nM/s)", "titleFont": "Liberation Sans", "titleFontSize": 16, "labelPadding": 3, "titlePadding": 6}}, "text": {"field": "star"}}}
              ]
            }
          ],
          "spacing": 30.1
        }
      ],
      "spacing": 27.2
    }
  ],
  "spacing": 32.5,
  "resolve": {"scale": {"strokeDash": "independent"}, "legend": {"strokeDash": "independent"}},
  "config": {
    "font": "DejaVu Sans",
    "view": {"stroke": null},
    "title": {"fontSize": 21, "fontWeight": "bold", "color": "black", "font": "DejaVu Sans", "offset": 0},
    "axis": {
      "grid": false,
      "labelFont": "DejaVu Sans", "labelFontSize": 14.5, "labelFontWeight": "bold", "labelColor": "black",
      "titleFont": "DejaVu Sans", "titleFontSize": 15.5, "titleFontWeight": "bold", "titleColor": "black",
      "domainColor": "black", "domainWidth": 2, "tickColor": "black", "tickWidth": 2, "tickSize": 5,
      "labelPadding": 4, "titlePadding": 4
    },
    "legend": {
      "labelFont": "DejaVu Sans", "labelFontSize": 16, "labelFontWeight": "bold", "labelColor": "black",
      "symbolType": "stroke", "symbolStrokeColor": "black", "symbolStrokeWidth": 2, "symbolSize": 2209,
      "rowPadding": 0.6, "labelOffset": 10, "clipHeight": 14, "padding": 0
    }
  }
}
